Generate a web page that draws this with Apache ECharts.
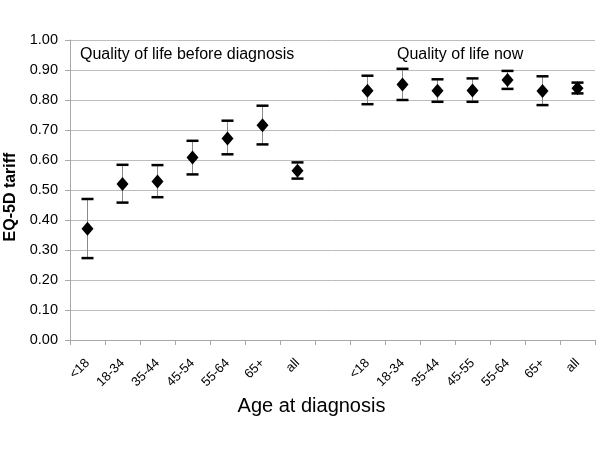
<!DOCTYPE html>
<html>
<head>
<meta charset="utf-8">
<script src="https://cdn.jsdelivr.net/npm/echarts@6/dist/echarts.min.js"></script>
<style>html,body{margin:0;padding:0;background:#fff}#c{width:600px;height:450px}</style>
</head>
<body>
<div id="c"></div>
<script>
var categories = ['<18','18-34','35-44','45-54','55-64','65+','all','','<18','18-34','35-44','45-55','55-64','65+','all'];
var means = [0.371,0.520,0.528,0.608,0.672,0.716,0.564,null,0.831,0.852,0.831,0.832,0.867,0.830,0.839];
var lows  = [0.273,0.458,0.476,0.552,0.619,0.652,0.538,null,0.786,0.800,0.794,0.794,0.837,0.783,0.822];
var highs = [0.470,0.584,0.583,0.664,0.731,0.781,0.592,null,0.881,0.904,0.869,0.872,0.897,0.879,0.858];
var yTicks = [0,0.1,0.2,0.3,0.4,0.5,0.6,0.7,0.8,0.9,1.0];

var errData = [], ptData = [];
for (var i = 0; i < categories.length; i++) {
  if (means[i] == null) continue;
  errData.push([i, lows[i], highs[i]]);
  ptData.push([i, means[i]]);
}

var FONT = '"Liberation Sans", Arial, sans-serif';
var chart = echarts.init(document.getElementById('c'));
chart.setOption({
  animation: false,
  grid: {left: 70, right: 5, top: 40, bottom: 110, containLabel: false, outerBoundsMode: 'none'},
  xAxis: {
    type: 'category',
    data: categories,
    boundaryGap: true,
    axisLine: {lineStyle: {color: '#a8a8a8'}},
    axisTick: {show: true, length: 5, lineStyle: {color: '#a8a8a8'}},
    axisLabel: {rotate: 45, interval: 0, color: '#000', fontFamily: FONT, fontSize: 13, margin: 21},
    name: 'Age at diagnosis',
    nameLocation: 'middle',
    nameGap: 49,
    nameTextStyle: {color: '#000', fontFamily: FONT, fontSize: 20, padding: [0, 42, 0, 0]}
  },
  yAxis: {
    type: 'value',
    min: yTicks[0], max: yTicks[yTicks.length-1], interval: 0.1,
    axisLine: {show: true, lineStyle: {color: '#a8a8a8'}},
    axisTick: {show: true, length: 5, lineStyle: {color: '#a8a8a8'}},
    splitLine: {lineStyle: {color: '#bdbdbd'}},
    axisLabel: {formatter: function(v){return v.toFixed(2);}, color: '#000', fontFamily: FONT, fontSize: 14.5, margin: 12},
    name: 'EQ-5D tariff',
    nameLocation: 'middle',
    nameGap: 49,
    nameTextStyle: {color: '#000', fontFamily: FONT, fontSize: 16, fontWeight: 'bold', padding: [0, 14, 0, 0]}
  },
  graphic: [
    {type: 'text', left: 80, top: 47, style: {text: 'Quality of life before diagnosis', font: '16px ' + FONT, fill: '#000'}},
    {type: 'text', left: 397, top: 47, style: {text: 'Quality of life now', font: '16px ' + FONT, fill: '#000'}}
  ],
  series: [
    {
      type: 'custom',
      data: errData,
      encode: {x: 0, y: [1, 2]},
      renderItem: function(params, api) {
        var x = api.value(0);
        var lo = api.coord([x, api.value(1)]);
        var hi = api.coord([x, api.value(2)]);
        var hw = 6;
        return {
          type: 'group',
          children: [
            {type: 'line', shape: {x1: lo[0], y1: lo[1], x2: hi[0], y2: hi[1]}, style: {stroke: '#8a8a8a', lineWidth: 1}},
            {type: 'line', shape: {x1: lo[0]-hw, y1: lo[1], x2: lo[0]+hw, y2: lo[1]}, style: {stroke: '#000', lineWidth: 2.5}},
            {type: 'line', shape: {x1: hi[0]-hw, y1: hi[1], x2: hi[0]+hw, y2: hi[1]}, style: {stroke: '#000', lineWidth: 2.5}}
          ]
        };
      },
      z: 2
    },
    {
      type: 'scatter',
      data: ptData,
      symbol: 'diamond',
      symbolSize: [12, 14],
      itemStyle: {color: '#000', opacity: 1},
      z: 3
    }
  ]
});
</script>
</body>
</html>
